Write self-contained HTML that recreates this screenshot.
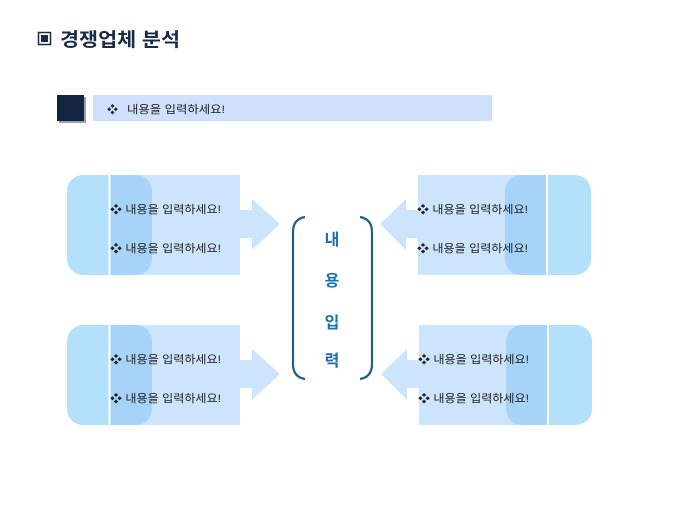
<!DOCTYPE html>
<html><head><meta charset="utf-8"><style>
body{margin:0;background:#fff;width:680px;height:510px;overflow:hidden;font-family:"Liberation Sans","Noto Sans CJK KR",sans-serif}
svg text{font-family:"Liberation Sans","Noto Sans CJK KR",sans-serif}
</style></head><body>
<svg width="680" height="510" xmlns="http://www.w3.org/2000/svg">
<defs>
<clipPath id="cl"><rect x="110" y="0" width="200" height="510"/></clipPath>
<clipPath id="cr"><rect x="0" y="0" width="546" height="510"/></clipPath>
</defs>
<!-- title -->
<rect x="38.5" y="32.5" width="12" height="12" fill="none" stroke="#1a2b4a" stroke-width="1.5"/>
<rect x="41" y="35" width="7" height="7" fill="#1a2b4a"/>
<text x="60" y="46" font-size="19" font-weight="bold" fill="#1a2b4a" textLength="120" lengthAdjust="spacingAndGlyphs">경쟁업체 분석</text>
<!-- header bar -->
<rect x="59" y="97" width="27" height="26" fill="#9aa3b0"/>
<rect x="57" y="95" width="27" height="26" fill="#14233f"/>
<rect x="93" y="95" width="399" height="26" fill="#cfe0fc"/>
<text x="107" y="113" font-size="11" fill="#222">❖</text>
<text x="127" y="113" font-size="11" fill="#222" textLength="98" lengthAdjust="spacingAndGlyphs">내용을 입력하세요!</text>

<!-- left groups -->
<g id="L">
<rect x="67" y="175" width="85" height="100" rx="16" fill="#b3e1fb"/>
<rect x="110" y="175" width="130" height="100" fill="#cce4fc"/>
<rect x="67" y="175" width="85" height="100" rx="16" fill="#a6d4f9" clip-path="url(#cl)"/>
<rect x="108.5" y="175" width="2" height="100" fill="#fff"/>
<polygon points="240,210 252,210 252,199 280,224 252,250 252,238 240,238" fill="#cce4fc"/>
<text x="110" y="213" font-size="11" fill="#222" textLength="111" lengthAdjust="spacingAndGlyphs">❖ 내용을 입력하세요!</text>
<text x="110" y="252" font-size="11" fill="#222" textLength="111" lengthAdjust="spacingAndGlyphs">❖ 내용을 입력하세요!</text>
</g>
<use href="#L" transform="translate(0,150)"/>

<!-- right groups -->
<g id="R">
<rect x="505" y="175" width="86" height="100" rx="16" fill="#b3e1fb"/>
<rect x="418" y="175" width="130" height="100" fill="#cce4fc"/>
<rect x="505" y="175" width="86" height="100" rx="16" fill="#a6d4f9" clip-path="url(#cr)"/>
<rect x="546" y="175" width="2" height="100" fill="#fff"/>
<polygon points="418,210 406,210 406,199 380,224 406,250 406,238 418,238" fill="#cce4fc"/>
<text x="417" y="213" font-size="11" fill="#222" textLength="111" lengthAdjust="spacingAndGlyphs">❖ 내용을 입력하세요!</text>
<text x="417" y="252" font-size="11" fill="#222" textLength="111" lengthAdjust="spacingAndGlyphs">❖ 내용을 입력하세요!</text>
</g>
<use href="#R" transform="translate(1,150)"/>

<!-- brackets -->
<path d="M305,217 Q293,219 293,232 L293,364 Q293,377 305,379" fill="none" stroke="#1f5f86" stroke-width="2.2"/>
<path d="M360,217 Q372,219 372,232 L372,364 Q372,377 360,379" fill="none" stroke="#1f5f86" stroke-width="2.2"/>
<g font-size="16" fill="#1f6fa8" text-anchor="middle" font-weight="bold">
<text x="332" y="245">내</text>
<text x="332" y="286">용</text>
<text x="332" y="328">입</text>
<text x="332" y="366">력</text>
</g>
</svg>
</body></html>
